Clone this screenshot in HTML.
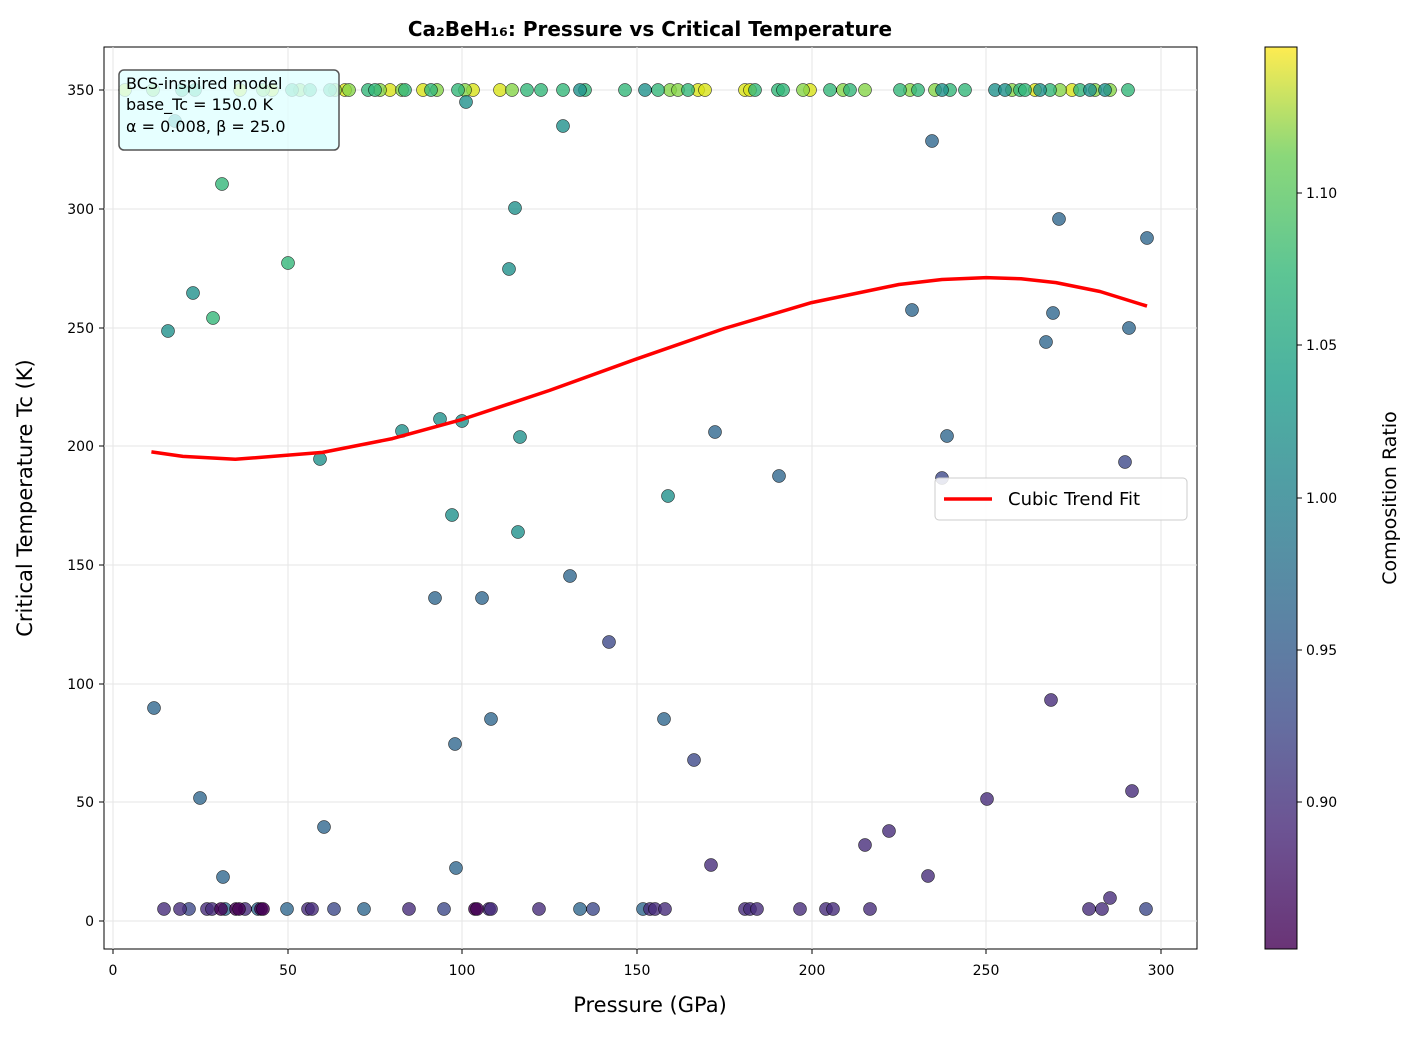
<!DOCTYPE html>
<html><head><meta charset="utf-8"><style>
body{margin:0;background:#fff;}
svg text{font-family:"DejaVu Sans","Liberation Sans",sans-serif;}
</style></head><body>
<svg width="1418" height="1034" xmlns="http://www.w3.org/2000/svg">
<defs>
<linearGradient id="vir" x1="0" y1="1" x2="0" y2="0">
<stop offset="0" stop-color="#440154"/><stop offset="0.13" stop-color="#482878"/><stop offset="0.25" stop-color="#3e4a89"/><stop offset="0.38" stop-color="#31688e"/><stop offset="0.5" stop-color="#26828e"/><stop offset="0.63" stop-color="#1f9e89"/><stop offset="0.75" stop-color="#35b779"/><stop offset="0.88" stop-color="#6ece58"/><stop offset="1" stop-color="#fde725"/>
</linearGradient>
</defs>
<text x="650" y="36" text-anchor="middle" font-size="20" font-weight="bold">Ca₂BeH₁₆: Pressure vs Critical Temperature</text>
<rect x="104" y="47" width="1093" height="902" fill="#fff" stroke="#000" stroke-width="1"/>
<g stroke="#e6e6e6" stroke-width="1">
<line x1="113" y1="47" x2="113" y2="949"/><line x1="288" y1="47" x2="288" y2="949"/><line x1="462" y1="47" x2="462" y2="949"/><line x1="637" y1="47" x2="637" y2="949"/><line x1="812" y1="47" x2="812" y2="949"/><line x1="986" y1="47" x2="986" y2="949"/><line x1="1161" y1="47" x2="1161" y2="949"/>
<line x1="104" y1="921" x2="1197" y2="921"/><line x1="104" y1="802" x2="1197" y2="802"/><line x1="104" y1="684" x2="1197" y2="684"/><line x1="104" y1="565" x2="1197" y2="565"/><line x1="104" y1="446" x2="1197" y2="446"/><line x1="104" y1="328" x2="1197" y2="328"/><line x1="104" y1="209" x2="1197" y2="209"/><line x1="104" y1="90" x2="1197" y2="90"/>
</g>
<g font-size="14" text-anchor="middle">
<text x="113" y="975">0</text><text x="288" y="975">50</text><text x="462" y="975">100</text><text x="637" y="975">150</text><text x="812" y="975">200</text><text x="986" y="975">250</text><text x="1161" y="975">300</text>
</g>
<g font-size="14" text-anchor="end">
<text x="94" y="926">0</text><text x="94" y="807">50</text><text x="94" y="689">100</text><text x="94" y="570">150</text><text x="94" y="451">200</text><text x="94" y="333">250</text><text x="94" y="214">300</text><text x="94" y="95">350</text>
</g>
<g stroke="#000"><line x1="113" y1="949" x2="113" y2="954"/><line x1="288" y1="949" x2="288" y2="954"/><line x1="462" y1="949" x2="462" y2="954"/><line x1="637" y1="949" x2="637" y2="954"/><line x1="812" y1="949" x2="812" y2="954"/><line x1="986" y1="949" x2="986" y2="954"/><line x1="1161" y1="949" x2="1161" y2="954"/>
<line x1="99" y1="921" x2="104" y2="921"/><line x1="99" y1="802" x2="104" y2="802"/><line x1="99" y1="684" x2="104" y2="684"/><line x1="99" y1="565" x2="104" y2="565"/><line x1="99" y1="446" x2="104" y2="446"/><line x1="99" y1="328" x2="104" y2="328"/><line x1="99" y1="209" x2="104" y2="209"/><line x1="99" y1="90" x2="104" y2="90"/></g>
<text x="650" y="1012" text-anchor="middle" font-size="21">Pressure (GPa)</text>
<text x="0" y="0" transform="translate(32,498) rotate(-90)" text-anchor="middle" font-size="21">Critical Temperature Tc (K)</text>
<g stroke="#000" stroke-width="0.5" fill-opacity="0.8">
<g fill="#d8e219"><circle cx="125" cy="90" r="6.5"/><circle cx="240" cy="90" r="6.5"/><circle cx="272" cy="90" r="6.5"/><circle cx="345" cy="90" r="6.5"/><circle cx="390" cy="90" r="6.5"/><circle cx="423" cy="90" r="6.5"/><circle cx="473" cy="90" r="6.5"/><circle cx="500" cy="90" r="6.5"/><circle cx="698" cy="90" r="6.5"/><circle cx="705" cy="90" r="6.5"/><circle cx="745" cy="90" r="6.5"/><circle cx="750" cy="90" r="6.5"/><circle cx="810" cy="90" r="6.5"/><circle cx="1072" cy="90" r="6.5"/><circle cx="1035" cy="90" r="6.5"/></g>
<g fill="#86d549"><circle cx="153" cy="90" r="6.5"/><circle cx="263" cy="90" r="6.5"/><circle cx="300" cy="90" r="6.5"/><circle cx="335" cy="90" r="6.5"/><circle cx="349" cy="90" r="6.5"/><circle cx="380" cy="90" r="6.5"/><circle cx="402" cy="90" r="6.5"/><circle cx="437" cy="90" r="6.5"/><circle cx="465" cy="90" r="6.5"/><circle cx="512" cy="90" r="6.5"/><circle cx="670" cy="90" r="6.5"/><circle cx="678" cy="90" r="6.5"/><circle cx="803" cy="90" r="6.5"/><circle cx="843" cy="90" r="6.5"/><circle cx="865" cy="90" r="6.5"/><circle cx="910" cy="90" r="6.5"/><circle cx="935" cy="90" r="6.5"/><circle cx="1012" cy="90" r="6.5"/><circle cx="1060" cy="90" r="6.5"/><circle cx="1095" cy="90" r="6.5"/><circle cx="1110" cy="90" r="6.5"/></g>
<g fill="#35b779"><circle cx="182" cy="90" r="6.5"/><circle cx="195" cy="90" r="6.5"/><circle cx="292" cy="90" r="6.5"/><circle cx="310" cy="90" r="6.5"/><circle cx="330" cy="90" r="6.5"/><circle cx="368" cy="90" r="6.5"/><circle cx="375" cy="90" r="6.5"/><circle cx="405" cy="90" r="6.5"/><circle cx="431" cy="90" r="6.5"/><circle cx="458" cy="90" r="6.5"/><circle cx="527" cy="90" r="6.5"/><circle cx="541" cy="90" r="6.5"/><circle cx="625" cy="90" r="6.5"/><circle cx="658" cy="90" r="6.5"/><circle cx="688" cy="90" r="6.5"/><circle cx="755" cy="90" r="6.5"/><circle cx="778" cy="90" r="6.5"/><circle cx="783" cy="90" r="6.5"/><circle cx="830" cy="90" r="6.5"/><circle cx="850" cy="90" r="6.5"/><circle cx="900" cy="90" r="6.5"/><circle cx="918" cy="90" r="6.5"/><circle cx="950" cy="90" r="6.5"/><circle cx="965" cy="90" r="6.5"/><circle cx="1020" cy="90" r="6.5"/><circle cx="1025" cy="90" r="6.5"/><circle cx="1050" cy="90" r="6.5"/><circle cx="1080" cy="90" r="6.5"/><circle cx="1128" cy="90" r="6.5"/><circle cx="563" cy="90" r="6.5"/><circle cx="585" cy="90" r="6.5"/><circle cx="222" cy="184" r="6.5"/><circle cx="213" cy="318" r="6.5"/><circle cx="288" cy="263" r="6.5"/></g>
<g fill="#21918c"><circle cx="645" cy="90" r="6.5"/><circle cx="580" cy="90" r="6.5"/><circle cx="942" cy="90" r="6.5"/><circle cx="995" cy="90" r="6.5"/><circle cx="1005" cy="90" r="6.5"/><circle cx="1040" cy="90" r="6.5"/><circle cx="1090" cy="90" r="6.5"/><circle cx="1105" cy="90" r="6.5"/><circle cx="175" cy="121" r="6.5"/><circle cx="466" cy="102" r="6.5"/><circle cx="563" cy="126" r="6.5"/><circle cx="168" cy="331" r="6.5"/><circle cx="193" cy="293" r="6.5"/><circle cx="509" cy="269" r="6.5"/><circle cx="515" cy="208" r="6.5"/><circle cx="320" cy="459" r="6.5"/><circle cx="402" cy="431" r="6.5"/><circle cx="440" cy="419" r="6.5"/><circle cx="462" cy="421" r="6.5"/><circle cx="452" cy="515" r="6.5"/><circle cx="518" cy="532" r="6.5"/><circle cx="520" cy="437" r="6.5"/><circle cx="668" cy="496" r="6.5"/></g>
<g fill="#31688e"><circle cx="154" cy="708" r="6.5"/><circle cx="200" cy="798" r="6.5"/><circle cx="223" cy="877" r="6.5"/><circle cx="324" cy="827" r="6.5"/><circle cx="435" cy="598" r="6.5"/><circle cx="455" cy="744" r="6.5"/><circle cx="456" cy="868" r="6.5"/><circle cx="482" cy="598" r="6.5"/><circle cx="491" cy="719" r="6.5"/><circle cx="570" cy="576" r="6.5"/><circle cx="664" cy="719" r="6.5"/><circle cx="715" cy="432" r="6.5"/><circle cx="779" cy="476" r="6.5"/><circle cx="912" cy="310" r="6.5"/><circle cx="932" cy="141" r="6.5"/><circle cx="947" cy="436" r="6.5"/><circle cx="1046" cy="342" r="6.5"/><circle cx="1053" cy="313" r="6.5"/><circle cx="1059" cy="219" r="6.5"/><circle cx="1129" cy="328" r="6.5"/><circle cx="1147" cy="238" r="6.5"/><circle cx="225" cy="909" r="6.5"/><circle cx="258" cy="909" r="6.5"/><circle cx="287" cy="909" r="6.5"/><circle cx="364" cy="909" r="6.5"/><circle cx="580" cy="909" r="6.5"/><circle cx="643" cy="909" r="6.5"/></g>
<g fill="#3e4a89"><circle cx="609" cy="642" r="6.5"/><circle cx="694" cy="760" r="6.5"/><circle cx="942" cy="478" r="6.5"/><circle cx="1125" cy="462" r="6.5"/><circle cx="189" cy="909" r="6.5"/><circle cx="334" cy="909" r="6.5"/><circle cx="444" cy="909" r="6.5"/><circle cx="593" cy="909" r="6.5"/><circle cx="1146" cy="909" r="6.5"/></g>
<g fill="#472d7b"><circle cx="711" cy="865" r="6.5"/><circle cx="865" cy="845" r="6.5"/><circle cx="889" cy="831" r="6.5"/><circle cx="928" cy="876" r="6.5"/><circle cx="987" cy="799" r="6.5"/><circle cx="1051" cy="700" r="6.5"/><circle cx="1110" cy="898" r="6.5"/><circle cx="1132" cy="791" r="6.5"/>
<circle cx="164" cy="909" r="6.5"/><circle cx="180" cy="909" r="6.5"/><circle cx="207" cy="909" r="6.5"/><circle cx="212" cy="909" r="6.5"/><circle cx="245" cy="909" r="6.5"/><circle cx="308" cy="909" r="6.5"/><circle cx="312" cy="909" r="6.5"/><circle cx="409" cy="909" r="6.5"/><circle cx="489" cy="909" r="6.5"/><circle cx="491" cy="909" r="6.5"/><circle cx="539" cy="909" r="6.5"/><circle cx="650" cy="909" r="6.5"/><circle cx="655" cy="909" r="6.5"/><circle cx="665" cy="909" r="6.5"/><circle cx="745" cy="909" r="6.5"/><circle cx="750" cy="909" r="6.5"/><circle cx="757" cy="909" r="6.5"/><circle cx="800" cy="909" r="6.5"/><circle cx="826" cy="909" r="6.5"/><circle cx="833" cy="909" r="6.5"/><circle cx="870" cy="909" r="6.5"/><circle cx="1089" cy="909" r="6.5"/><circle cx="1102" cy="909" r="6.5"/></g>
<g fill="#440154"><circle cx="221" cy="909" r="6.5"/><circle cx="236" cy="909" r="6.5"/><circle cx="239" cy="909" r="6.5"/><circle cx="261" cy="909" r="6.5"/><circle cx="263" cy="909" r="6.5"/><circle cx="475" cy="909" r="6.5"/><circle cx="477" cy="909" r="6.5"/></g>
</g>
<polyline fill="none" stroke="#ff0000" stroke-width="3.5" stroke-linejoin="round" points="151.4,451.9 182.9,456.4 235.3,459.3 322.6,452.4 392.4,438.6 462.3,419.4 549.6,390.4 637,358.8 724.3,328.5 811.6,302.6 898.9,284.5 942,279.5 986.3,277.6 1021,278.8 1056,282.6 1100,291.5 1147,306.1"/>
<rect x="119" y="70" width="220" height="80" rx="5" fill="#e0ffff" fill-opacity="0.8" stroke="#555" stroke-width="1.5"/>
<g font-size="16"><text x="126" y="89">BCS-inspired model</text><text x="126" y="110">base_Tc = 150.0 K</text><text x="126" y="132">α = 0.008, β = 25.0</text></g>
<rect x="935" y="478" width="252" height="42" rx="4" fill="#fff" fill-opacity="0.85" stroke="#ccc"/>
<line x1="944" y1="499" x2="992" y2="499" stroke="#ff0000" stroke-width="3.5"/>
<text x="1008" y="505" font-size="18">Cubic Trend Fit</text>
<rect x="1265" y="47" width="32" height="902" fill="url(#vir)" fill-opacity="0.8" stroke="#000" stroke-width="1"/>
<g stroke="#000"><line x1="1297" y1="802" x2="1302" y2="802"/><line x1="1297" y1="650" x2="1302" y2="650"/><line x1="1297" y1="498" x2="1302" y2="498"/><line x1="1297" y1="345" x2="1302" y2="345"/><line x1="1297" y1="193" x2="1302" y2="193"/></g>
<g font-size="14"><text x="1306" y="807">0.90</text><text x="1306" y="655">0.95</text><text x="1306" y="503">1.00</text><text x="1306" y="350">1.05</text><text x="1306" y="198">1.10</text></g>
<text x="0" y="0" transform="translate(1396,498) rotate(-90)" text-anchor="middle" font-size="19">Composition Ratio</text>
</svg>
</body></html>
